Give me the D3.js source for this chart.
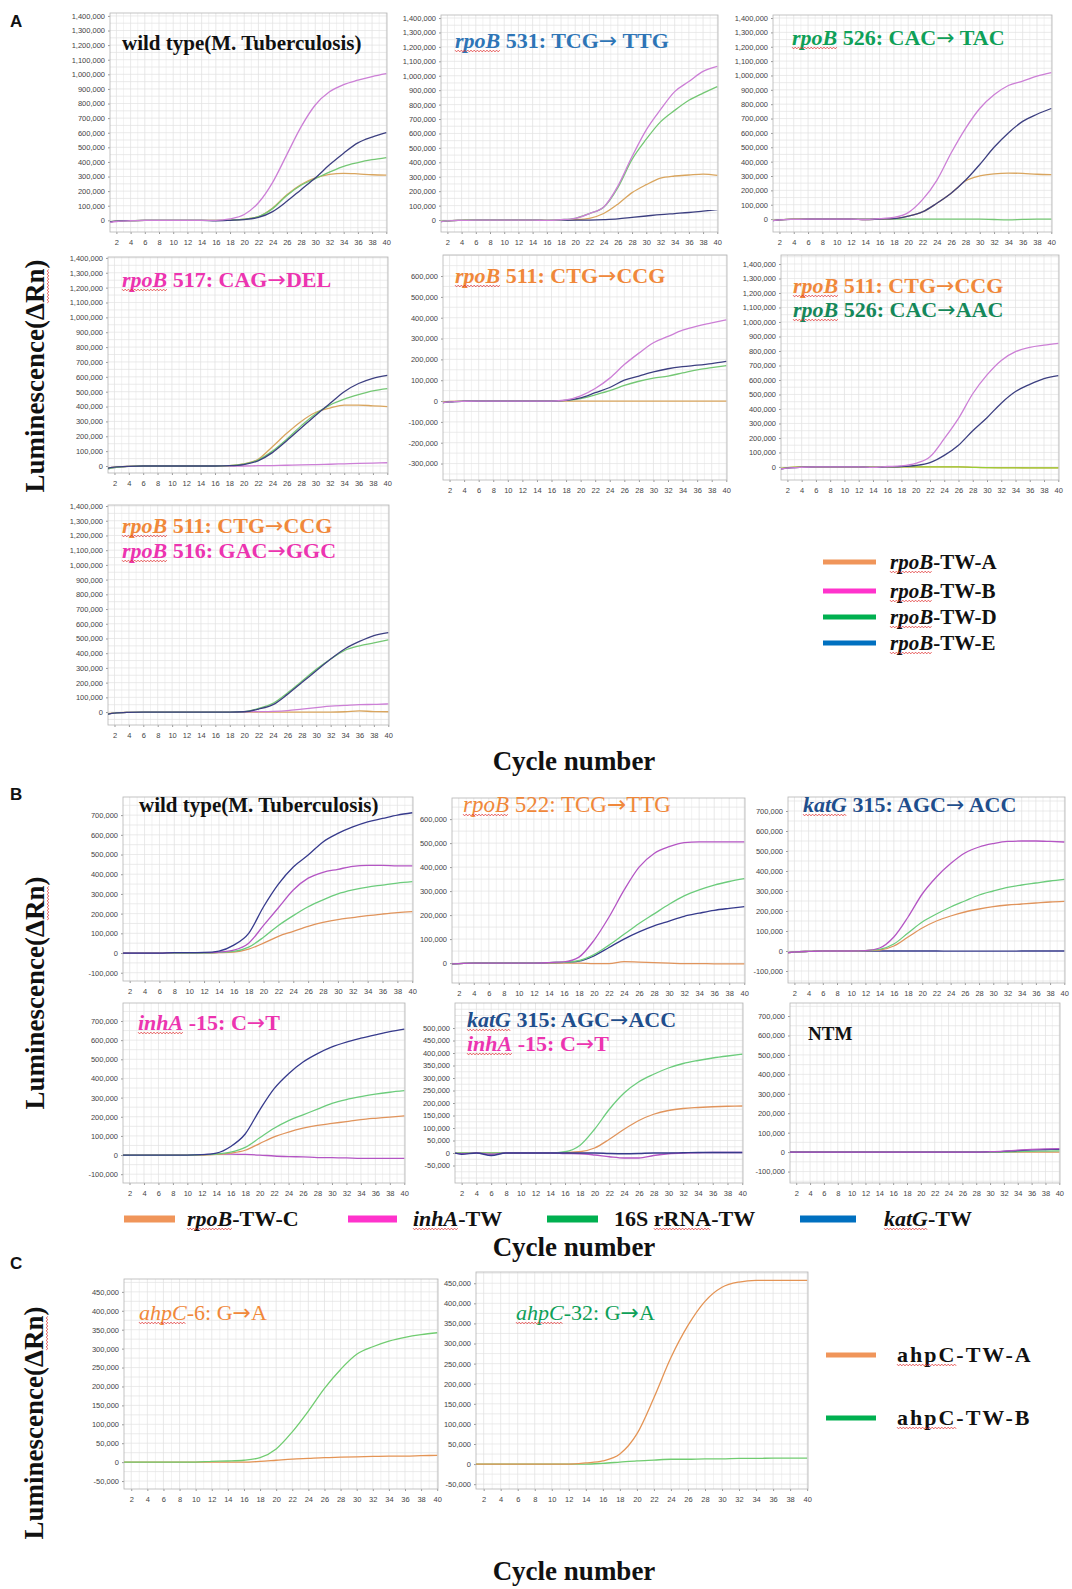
<!DOCTYPE html>
<html>
<head>
<meta charset="utf-8">
<script src="https://cdn.jsdelivr.net/npm/d3@7"></script>
<style>
  body { margin: 0; background: #fff; }
  svg { display: block; }
  svg text { white-space: pre; }
  .tick text { font-family: "Liberation Sans", Arial, sans-serif; font-size: 7.5px; fill: #444; }
  .tick line { stroke: #999; }
</style>
</head>
<body>
<div id="chart"></div>
<script>
const CYCLES = [1, 2, 4, 6, 8, 10, 12, 14, 16, 18, 20, 22, 24, 26, 28, 30, 32, 34, 36, 38, 40]
const X_TICKS = [2, 4, 6, 8, 10, 12, 14, 16, 18, 20, 22, 24, 26, 28, 30, 32, 34, 36, 38, 40]

// --- panel A: rpoB probes ---
const A1_TW_A = [-12, -6, -2, 0, 0, 0, 0, 0, 0, 2, 8, 25, 85, 175, 245, 290, 315, 322, 318, 312, 310]
const A1_TW_B = [-15, -8, -3, 0, 0, 0, 0, 0, 0, 10, 40, 120, 260, 450, 640, 790, 880, 930, 960, 985, 1005]
const A1_TW_D = [-10, -5, -2, 0, 0, 0, 0, 0, 0, 2, 8, 25, 80, 170, 240, 285, 330, 370, 395, 415, 430]
const A1_TW_E = [-12, -6, -2, 0, 0, 0, 0, 0, -3, 0, 5, 20, 60, 130, 210, 290, 380, 460, 530, 570, 600]

const A2_TW_A = [-10, -5, -2, 0, 0, 0, 0, 0, -2, 0, 3, 12, 45, 110, 190, 245, 290, 305, 312, 318, 310]
const A2_TW_B = [-12, -6, -2, 0, 0, 0, 0, 0, -3, 2, 12, 45, 90, 235, 440, 625, 765, 890, 960, 1030, 1065]
const A2_TW_D = [-10, -5, -2, 0, 0, 0, 0, 0, -3, 2, 12, 45, 88, 225, 420, 560, 680, 760, 830, 880, 925]
const A2_TW_E = [-12, -6, -2, 0, 0, 0, 0, 0, -3, -2, -1, 0, 3, 8, 18, 28, 38, 45, 52, 62, 72]

const A3_TW_A = [-10, -5, 0, 0, 0, 0, 0, -3, 0, 3, 20, 50, 110, 180, 265, 300, 315, 320, 318, 312, 310]
const A3_TW_B = [-12, -6, -2, 0, 0, 0, 0, -3, 3, 12, 45, 135, 270, 460, 630, 770, 865, 930, 960, 995, 1020]
const A3_TW_D = [-10, -5, 0, 0, 0, 0, 0, 0, 0, 0, 0, 0, 0, 0, 0, 0, -3, -5, -2, 0, 0]
const A3_TW_E = [-12, -6, -2, 0, 0, 0, 0, -3, 0, 3, 20, 50, 110, 180, 270, 380, 500, 600, 680, 730, 770]

const A4_TW_A = [-15, -8, -2, 0, 0, 0, 0, 0, 0, 3, 15, 45, 130, 220, 300, 360, 390, 410, 410, 405, 400]
const A4_TW_B = [-20, -10, -3, 0, 0, 0, 0, 0, 0, 0, 0, 2, 3, 5, 8, 10, 12, 15, 18, 20, 22]
const A4_TW_D = [-20, -10, -3, 0, 0, 0, 0, 0, 0, 3, 12, 40, 100, 180, 270, 350, 410, 450, 480, 505, 520]
const A4_TW_E = [-15, -8, -2, 0, 0, 0, 0, 0, 0, 2, 10, 35, 90, 170, 255, 340, 420, 500, 555, 590, 610]

const A5_TW_A = [-5, -2, 0, 0, 0, 0, 0, 0, 0, 0, 0, 0, 0, 0, 0, 0, 0, 0, 0, 0, 0]
const A5_TW_B = [-8, -4, -1, 0, 0, 0, 0, 0, 0, 5, 25, 60, 110, 175, 230, 280, 310, 340, 360, 375, 390]
const A5_TW_D = [-8, -4, -1, 0, 0, 0, 0, 0, 0, 3, 12, 30, 50, 75, 95, 110, 120, 135, 150, 160, 170]
const A5_TW_E = [-8, -4, -1, 0, 0, 0, 0, 0, 0, 3, 15, 40, 65, 100, 120, 140, 155, 165, 172, 180, 190]

const A6_TW_A = [-10, -5, 0, 0, 0, 0, 0, -2, 0, 0, 0, 0, 0, 0, -3, -5, -5, -5, -6, -6, -6]
const A6_TW_B = [-15, -8, -2, 0, 0, 0, 0, -3, 3, 8, 25, 70, 195, 335, 505, 635, 735, 795, 825, 840, 852]
const A6_TW_D = [-10, -5, 0, 0, 0, 0, 0, -2, 0, 0, 0, 0, 0, 0, -3, -5, -6, -6, -6, -6, -6]
const A6_TW_E = [-15, -8, -2, 0, 0, 0, 0, -3, 0, 3, 10, 30, 80, 150, 250, 340, 440, 520, 570, 610, 630]

const A7_TW_A = [-12, -6, -2, 0, 0, 0, 0, 0, 0, 0, 0, 0, 0, 0, 0, 0, 0, 2, 8, 3, 2]
const A7_TW_B = [-15, -8, -2, 0, 0, 0, 0, 0, 0, 0, 2, 3, 5, 10, 20, 30, 40, 45, 50, 52, 55]
const A7_TW_D = [-15, -8, -2, 0, 0, 0, 0, 0, 0, 0, 3, 25, 60, 130, 210, 290, 360, 420, 450, 470, 490]
const A7_TW_E = [-15, -8, -2, 0, 0, 0, 0, 0, 0, 0, 2, 20, 50, 120, 200, 280, 360, 430, 480, 520, 540]

// --- panel B: rpoB-TW-C / inhA-TW / 16S rRNA-TW / katG-TW ---
const B1_RPOB = [0, 0, 0, 0, 0, 0, 0, 2, 5, 20, 50, 85, 110, 135, 155, 170, 180, 190, 198, 205, 210]
const B1_INHA = [0, 0, 0, 0, 2, 2, 2, 5, 15, 50, 140, 230, 320, 380, 410, 425, 440, 445, 445, 442, 442]
const B1_16S = [0, 0, 0, 0, 0, 0, 0, 3, 8, 30, 80, 140, 190, 235, 270, 300, 320, 335, 345, 355, 362]
const B1_KATG = [0, 0, 0, 0, 2, 2, 3, 10, 40, 100, 235, 350, 437, 497, 564, 607, 640, 666, 683, 700, 712]

const B2_RPOB = [-3, -2, 0, 0, 0, 0, 0, 0, 0, 0, -2, -2, 6, 4, 2, 0, -2, -2, -3, -3, -3]
const B2_INHA = [-3, -2, 0, 0, 0, 0, 0, 2, 5, 25, 95, 192, 304, 400, 457, 485, 502, 505, 505, 505, 505]
const B2_16S = [-3, -2, 0, 0, 0, 0, 0, 2, 3, 10, 35, 75, 120, 165, 205, 245, 280, 305, 325, 340, 352]
const B2_KATG = [-3, -2, 0, 0, 0, 0, 0, 2, 3, 8, 30, 65, 100, 130, 155, 175, 195, 208, 220, 228, 235]

const B3_RPOB = [-8, -5, -2, 0, 0, 0, 2, 5, 25, 70, 115, 150, 175, 195, 210, 222, 230, 235, 240, 245, 248]
const B3_INHA = [-8, -5, -2, 0, 0, 0, 2, 15, 70, 170, 285, 370, 437, 490, 520, 537, 548, 550, 550, 548, 545]
const B3_16S = [-8, -5, -2, 0, 0, 0, 2, 8, 35, 90, 145, 185, 220, 250, 280, 300, 318, 330, 340, 350, 358]
const B3_KATG = [-8, -5, -2, 0, 0, 0, 0, 0, 0, 0, 0, 0, -1, -1, -1, -1, -1, 0, 0, 0, 0]

const B4_RPOB = [0, 0, 0, 0, 0, 0, 0, 3, 10, 25, 60, 95, 120, 140, 155, 165, 175, 185, 192, 198, 205]
const B4_INHA = [0, 0, 0, 0, 0, 0, 2, 5, 5, 3, 0, -5, -8, -10, -13, -14, -15, -17, -17, -17, -17]
const B4_16S = [0, 0, 0, 0, 0, 0, 2, 5, 15, 40, 90, 140, 180, 210, 240, 270, 290, 305, 318, 328, 336]
const B4_KATG = [0, 0, 0, 0, 0, 0, 2, 10, 45, 110, 235, 347, 425, 486, 530, 565, 590, 610, 628, 645, 658]

const B5_RPOB = [0, 0, 0, 0, 0, 0, 0, 0, 2, 5, 20, 55, 95, 130, 155, 170, 178, 182, 185, 187, 188]
const B5_INHA = [0, -3, 0, -5, 0, 0, 0, 0, -2, -3, -8, -15, -20, -20, -10, -3, 0, 1, 2, 2, 2]
const B5_16S = [0, 0, 0, 0, 0, 0, 0, 0, 5, 30, 95, 175, 240, 285, 315, 340, 358, 370, 380, 388, 395]
const B5_KATG = [0, -5, 0, -10, 0, 0, 0, 0, 0, 0, 0, -2, -3, -2, 0, 0, 1, 2, 2, 2, 2]

const B6_RPOB = [0, 0, 0, 0, 0, 0, 0, 0, 0, 0, 0, 0, 0, 0, 0, 0, 0, 0, 0, 0, 0]
const B6_INHA = [0, 0, 0, 0, 0, 0, 0, 0, 0, 0, 0, 0, 0, 0, 0, 2, 5, 10, 14, 17, 18]
const B6_16S = [0, 0, 0, 0, 0, 0, 0, 0, 0, 0, 0, 0, 0, 0, 0, 0, 0, 3, 4, 5, 6]
const B6_KATG = [0, 0, 0, 0, 0, 0, 0, 0, 0, 0, 0, 0, 0, 0, 0, 2, 4, 8, 11, 13, 14]

// --- panel C: ahpC probes ---
const C1_TW_A = [0, 0, 0, 0, 0, 0, 0, 0, 0, 2, 5, 8, 10, 12, 13, 14, 15, 16, 16, 17, 18]
const C1_TW_B = [0, 0, 0, 0, 0, 0, 2, 3, 5, 12, 35, 80, 135, 195, 245, 285, 305, 320, 330, 337, 342]
const C2_TW_A = [0, 0, 0, 0, 0, 0, 0, 3, 8, 25, 75, 165, 265, 345, 405, 440, 453, 457, 457, 457, 457]
const C2_TW_B = [0, 0, 0, 0, 0, 0, 0, 0, 2, 5, 8, 10, 12, 12, 13, 13, 14, 14, 15, 15, 15]

const TICKS_1400 = d3.range(0, 1401, 100)
const TICKS_600N = d3.range(-300, 601, 100)
const TICKS_700 = d3.range(-100, 701, 100)
const TICKS_600 = d3.range(0, 601, 100)
const TICKS_500 = d3.range(-50, 501, 50)
const TICKS_450 = d3.range(-50, 451, 50)

const LEGEND_A = ['-TW-A', '-TW-B', '-TW-D', '-TW-E']
const LEGEND_B = [['rpoB', '-TW-C'], ['inhA', '-TW'], [null, '16S rRNA-TW'], ['katG', '-TW']]
const LEGEND_C = ['ahpC-TW-A', 'ahpC-TW-B']

const COL_A = { A: '#d9a55e', B: '#cc7fd6', D: '#74c774', E: '#3c3f80' }
const COL_B = { rpob: '#e0945c', inha: '#b455c4', s16: '#6ccc7c', katg: '#363a8c' }
const COL_C = { A: '#e49455', B: '#70cc70' }
const LEG_ORANGE = '#f0955a'
const LEG_MAGENTA = '#ff33cc'
const LEG_GREEN = '#00b050'
const LEG_BLUE = '#0070c0'

const T_ORANGE = '#f0883a'
const T_MAGENTA = '#ec34b0'
const T_GREEN = '#0ea058'
const T_DGREEN = '#15885a'
const T_BLUE = '#2e75b6'
const T_NAVY = '#1f4e8c'

const W = 1072
const H = 1589
const SERIF = '"Liberation Serif", "Times New Roman", serif'
const ARROW = '\u2192'
const TITLE_SIZE = 22

const svg = d3.select('#chart').append('svg')
  .attr('width', W)
  .attr('height', H)
  .style('background', '#fff')

const fmt = v => d3.format(',')(v * 1000).replace('\u2212', '-')

function squiggle (g, x0, x1, y) {
  const pts = []
  let i = 0
  for (let x = x0; x <= x1; x += 1.6, i++) pts.push([x, y + (i % 2 ? 0.9 : -0.9)])
  g.append('path')
    .attr('d', d3.line()(pts))
    .attr('fill', 'none')
    .attr('stroke', '#e02828')
    .attr('stroke-width', 0.7)
}

// writes [gene(italic, squiggled), rest] as one run of text
function geneText (g, x, y, gene, rest, o) {
  let cx = x
  const mk = (txt, italic) => g.append('text')
    .attr('x', cx).attr('y', y)
    .attr('xml:space', 'preserve')
    .attr('font-family', SERIF)
    .attr('font-size', o.size)
    .attr('font-weight', o.weight || 'bold')
    .attr('font-style', italic ? 'italic' : 'normal')
    .attr('letter-spacing', o.spacing || 0)
    .attr('fill', o.color || '#111')
  if (gene) {
    const t = mk(gene, !o.plainGene).text(gene)
    const w = t.node().getComputedTextLength()
    squiggle(g, cx, cx + w, y + 3)
    cx += w
  }
  if (rest) {
    const t = mk(rest, false)
    rest.split(ARROW).forEach((part, i) => {
      if (i > 0) {
        t.append('tspan')
          .attr('font-family', '"DejaVu Sans", sans-serif')
          .attr('font-weight', 'normal')
          .text(ARROW)
      }
      t.append('tspan').text(part)
    })
  }
}

const panels = [
  // A
  { x0: 110, x1: 387, y0: 13, y1: 232, yDomain: [-80, 1420], yTicks: TICKS_1400,
    series: [[A1_TW_A, COL_A.A], [A1_TW_D, COL_A.D], [A1_TW_E, COL_A.E], [A1_TW_B, COL_A.B]],
    titles: [{ x: 122, y: 50, gene: null, rest: 'wild type(M. Tuberculosis)', color: '#111', size: 21 }] },
  { x0: 441, x1: 718, y0: 15, y1: 232, yDomain: [-83, 1421], yTicks: TICKS_1400,
    series: [[A2_TW_A, COL_A.A], [A2_TW_E, COL_A.E], [A2_TW_D, COL_A.D], [A2_TW_B, COL_A.B]],
    titles: [{ x: 455, y: 48, gene: 'rpoB', rest: ' 531: TCG\u2192 TTG', color: T_BLUE }] },
  { x0: 773, x1: 1052, y0: 15, y1: 232, yDomain: [-90, 1421], yTicks: TICKS_1400,
    series: [[A3_TW_D, COL_A.D], [A3_TW_A, COL_A.A], [A3_TW_E, COL_A.E], [A3_TW_B, COL_A.B]],
    titles: [{ x: 792, y: 45, gene: 'rpoB', rest: ' 526: CAC\u2192 TAC', color: T_GREEN }] },
  { x0: 108, x1: 388, y0: 257, y1: 473, yDomain: [-47, 1406], yTicks: TICKS_1400,
    series: [[A4_TW_B, COL_A.B], [A4_TW_A, COL_A.A], [A4_TW_D, COL_A.D], [A4_TW_E, COL_A.E]],
    titles: [{ x: 122, y: 287, gene: 'rpoB', rest: ' 517: CAG\u2192DEL', color: T_MAGENTA }] },
  { x0: 443, x1: 727, y0: 255, y1: 480, yDomain: [-379, 701], yTicks: TICKS_600N,
    series: [[A5_TW_A, COL_A.A], [A5_TW_D, COL_A.D], [A5_TW_E, COL_A.E], [A5_TW_B, COL_A.B]],
    titles: [{ x: 455, y: 283, gene: 'rpoB', rest: ' 511: CTG\u2192CCG', color: T_ORANGE }] },
  { x0: 781, x1: 1059, y0: 255, y1: 480, yDomain: [-90, 1462], yTicks: TICKS_1400,
    series: [[A6_TW_A, COL_A.A], [A6_TW_D, '#9acd32'], [A6_TW_E, COL_A.E], [A6_TW_B, COL_A.B]],
    titles: [{ x: 793, y: 293, gene: 'rpoB', rest: ' 511: CTG\u2192CCG', color: T_ORANGE },
      { x: 793, y: 317, gene: 'rpoB', rest: ' 526: CAC\u2192AAC', color: T_DGREEN }] },
  { x0: 108, x1: 389, y0: 505, y1: 725, yDomain: [-88, 1407], yTicks: TICKS_1400,
    series: [[A7_TW_A, COL_A.A], [A7_TW_B, COL_A.B], [A7_TW_D, COL_A.D], [A7_TW_E, COL_A.E]],
    titles: [{ x: 122, y: 533, gene: 'rpoB', rest: ' 511: CTG\u2192CCG', color: T_ORANGE },
      { x: 122, y: 558, gene: 'rpoB', rest: ' 516: GAC\u2192GGC', color: T_MAGENTA }] },
  // B
  { x0: 123, x1: 413, y0: 797, y1: 981, yDomain: [-142, 792], yTicks: TICKS_700,
    series: [[B1_RPOB, COL_B.rpob], [B1_16S, COL_B.s16], [B1_INHA, COL_B.inha], [B1_KATG, COL_B.katg]],
    titles: [{ x: 139, y: 812, gene: null, rest: 'wild type(M. Tuberculosis)', color: '#111', size: 21 }] },
  { x0: 452, x1: 745, y0: 798, y1: 983, yDomain: [-83, 688], yTicks: TICKS_600,
    series: [[B2_RPOB, COL_B.rpob], [B2_KATG, COL_B.katg], [B2_16S, COL_B.s16], [B2_INHA, COL_B.inha]],
    titles: [{ x: 463, y: 812, gene: 'rpoB', rest: ' 522: TCG\u2192TTG', color: T_ORANGE, weight: 'normal', size: 23 }] },
  { x0: 788, x1: 1065, y0: 797, y1: 983, yDomain: [-160, 770], yTicks: TICKS_700,
    series: [[B3_KATG, COL_B.katg], [B3_RPOB, COL_B.rpob], [B3_16S, COL_B.s16], [B3_INHA, COL_B.inha]],
    titles: [{ x: 803, y: 812, gene: 'katG', rest: ' 315: AGC\u2192 ACC', color: T_NAVY }] },
  { x0: 123, x1: 405, y0: 1003, y1: 1183, yDomain: [-146, 794], yTicks: TICKS_700,
    series: [[B4_INHA, COL_B.inha], [B4_RPOB, COL_B.rpob], [B4_16S, COL_B.s16], [B4_KATG, COL_B.katg]],
    titles: [{ x: 138, y: 1030, gene: 'inhA', rest: ' -15: C\u2192T', color: T_MAGENTA }] },
  { x0: 455, x1: 743, y0: 1003, y1: 1183, yDomain: [-120, 600], yTicks: TICKS_500,
    series: [[B5_RPOB, COL_B.rpob], [B5_16S, COL_B.s16], [B5_INHA, COL_B.inha], [B5_KATG, COL_B.katg]],
    titles: [{ x: 467, y: 1027, gene: 'katG', rest: ' 315: AGC\u2192ACC', color: T_NAVY },
      { x: 467, y: 1051, gene: 'inhA', rest: ' -15: C\u2192T', color: T_MAGENTA }] },
  { x0: 790, x1: 1060, y0: 1003, y1: 1183, yDomain: [-159, 767], yTicks: TICKS_700,
    series: [[B6_RPOB, COL_B.rpob], [B6_16S, COL_B.s16], [B6_KATG, COL_B.katg], [B6_INHA, COL_B.inha]],
    titles: [{ x: 808, y: 1040, gene: null, rest: 'NTM', color: '#111', size: 19 }] },
  // C
  { x0: 124, x1: 438, y0: 1279, y1: 1489, yDomain: [-71, 484], yTicks: TICKS_450,
    series: [[C1_TW_A, COL_C.A], [C1_TW_B, COL_C.B]],
    titles: [{ x: 139, y: 1320, gene: 'ahpC', rest: '-6: G\u2192A', color: T_ORANGE, weight: 'normal', size: 22 }] },
  { x0: 476, x1: 808, y0: 1272, y1: 1489, yDomain: [-62, 478], yTicks: TICKS_450,
    series: [[C2_TW_B, COL_C.B], [C2_TW_A, COL_C.A]],
    titles: [{ x: 516, y: 1320, gene: 'ahpC', rest: '-32: G\u2192A', color: T_GREEN, weight: 'normal', size: 22 }] }
]

function drawPanel (p, idx) {
  const x = d3.scaleLinear().domain([1.1, 40.1]).range([p.x0, p.x1])
  const y = d3.scaleLinear().domain(p.yDomain).range([p.y1, p.y0])
  const g = svg.append('g')

  // grid
  const step = p.yTicks[1] - p.yTicks[0]
  const hGrid = d3.range(Math.ceil(p.yDomain[0] / (step / 2)) * (step / 2), p.yDomain[1], step / 2)
  g.selectAll('.vg').data(d3.range(2, 41)).join('line')
    .attr('x1', d => x(d)).attr('x2', d => x(d))
    .attr('y1', p.y0).attr('y2', p.y1)
    .attr('stroke', d => d % 2 ? '#ededed' : '#e0e0e0')
    .attr('stroke-width', 0.7)
  g.selectAll('.hg').data(hGrid).join('line')
    .attr('x1', p.x0).attr('x2', p.x1)
    .attr('y1', d => y(d)).attr('y2', d => y(d))
    .attr('stroke', '#e2e2e2')
    .attr('stroke-width', 0.7)

  // axes
  g.append('g')
    .attr('transform', `translate(${p.x0},0)`)
    .call(d3.axisLeft(y).tickValues(p.yTicks).tickSize(2).tickPadding(3).tickFormat(fmt))
    .call(s => s.select('.domain').remove())
  g.append('g')
    .attr('transform', `translate(0,${p.y1})`)
    .call(d3.axisBottom(x).tickValues(X_TICKS).tickSize(2).tickPadding(6))
    .call(s => s.select('.domain').remove())

  g.append('rect')
    .attr('x', p.x0).attr('y', p.y0)
    .attr('width', p.x1 - p.x0).attr('height', p.y1 - p.y0)
    .attr('fill', 'none')
    .attr('stroke', '#b4b4b4')
    .attr('stroke-width', 0.8)

  // curves
  const clipId = 'clip' + idx
  svg.append('clipPath').attr('id', clipId)
    .append('rect')
    .attr('x', p.x0).attr('y', p.y0)
    .attr('width', p.x1 - p.x0).attr('height', p.y1 - p.y0)
  const line = d3.line()
    .x((d, i) => x(CYCLES[i]))
    .y(d => y(d))
    .curve(d3.curveMonotoneX)
  g.append('g').attr('clip-path', `url(#${clipId})`)
    .selectAll('path')
    .data(p.series)
    .join('path')
    .attr('d', d => line(d[0]))
    .attr('fill', 'none')
    .attr('stroke', d => d[1])
    .attr('stroke-width', 1.3)

  // panel titles
  p.titles.forEach(t => {
    geneText(g, t.x, t.y, t.gene, t.rest, { size: t.size || TITLE_SIZE, weight: t.weight || 'bold', color: t.color })
  })
}

panels.forEach(drawPanel)

// section letters
const letters = [['A', 27], ['B', 800], ['C', 1269]]
svg.selectAll('.sec').data(letters).join('text')
  .attr('x', 10).attr('y', d => d[1])
  .attr('font-family', '"Liberation Sans", Arial, sans-serif')
  .attr('font-weight', 'bold')
  .attr('font-size', 17)
  .attr('fill', '#111')
  .text(d => d[0])

// axis titles
function yTitle (cx, cy) {
  const g = svg.append('g').attr('transform', `translate(${cx},${cy}) rotate(-90)`)
  const t = g.append('text')
    .attr('text-anchor', 'middle')
    .attr('font-family', SERIF)
    .attr('font-weight', 'bold')
    .attr('font-size', 27)
    .attr('fill', '#111')
    .text('Luminescence(\u0394Rn)')
  const n = t.node()
  const s = n.getStartPositionOfChar(14).x
  const e = n.getEndPositionOfChar(15).x
  squiggle(g, s, e, 4)
}
yTitle(44, 376)
yTitle(44, 993)
yTitle(43, 1423)

const xTitles = [770, 1256, 1580]
svg.selectAll('.xt').data(xTitles).join('text')
  .attr('x', 574).attr('y', d => d)
  .attr('text-anchor', 'middle')
  .attr('font-family', SERIF)
  .attr('font-weight', 'bold')
  .attr('font-size', 27)
  .attr('fill', '#111')
  .text('Cycle number')

// legend A
const legACols = [LEG_ORANGE, LEG_MAGENTA, LEG_GREEN, LEG_BLUE]
const legAY = [562, 591, 617, 643]
LEGEND_A.forEach((lab, i) => {
  svg.append('line')
    .attr('x1', 823).attr('x2', 876)
    .attr('y1', legAY[i]).attr('y2', legAY[i])
    .attr('stroke', legACols[i])
    .attr('stroke-width', 5)
  geneText(svg, 890, legAY[i] + 7, 'rpoB', lab, { size: 21 })
})

// legend B
const legBCols = [LEG_ORANGE, LEG_MAGENTA, LEG_GREEN, LEG_BLUE]
const legBLine = [[124, 175], [348, 397], [547, 598], [800, 856]]
const legBText = [187, 413, 614, 884]
LEGEND_B.forEach((d, i) => {
  svg.append('line')
    .attr('x1', legBLine[i][0]).attr('x2', legBLine[i][1])
    .attr('y1', 1219).attr('y2', 1219)
    .attr('stroke', legBCols[i])
    .attr('stroke-width', 7)
  geneText(svg, legBText[i], 1226, d[0], d[1], { size: 22 })
})
// spell-check mark under "rRNA"
{
  const tmp = svg.append('text').attr('xml:space', 'preserve').attr('font-family', SERIF)
    .attr('font-weight', 'bold').attr('font-size', 22).text('16S ')
  const w0 = tmp.node().getComputedTextLength()
  tmp.text('rRNA')
  const w1 = tmp.node().getComputedTextLength()
  tmp.remove()
  squiggle(svg, legBText[2] + w0, legBText[2] + w0 + w1, 1229)
}

// legend C
const legCCols = [LEG_ORANGE, LEG_GREEN]
const legCY = [1355, 1418]
LEGEND_C.forEach((lab, i) => {
  svg.append('line')
    .attr('x1', 826).attr('x2', 876)
    .attr('y1', legCY[i]).attr('y2', legCY[i])
    .attr('stroke', legCCols[i])
    .attr('stroke-width', 5)
  geneText(svg, 897, legCY[i] + 7, lab.slice(0, 4), lab.slice(4), { size: 22, plainGene: true, spacing: 2 })
})
</script>
</body>
</html>
